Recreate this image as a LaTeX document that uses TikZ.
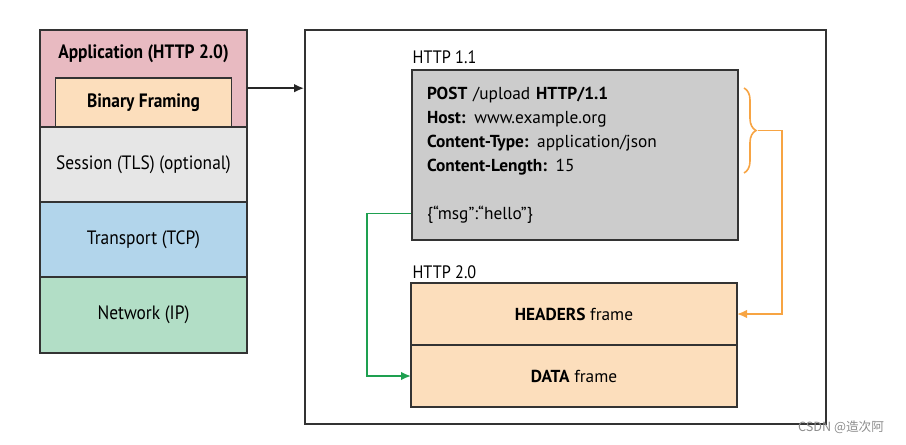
\documentclass[tikz,border=0pt]{standalone}
\usepackage{fontspec}
\setmainfont{PT Sans}
\newfontfamily\waski[FakeStretch=0.9]{PT Sans}
\newfontfamily\cjk{Noto Sans CJK SC}
\usepackage{tikz}
\usetikzlibrary{arrows.meta,positioning,calc,decorations.pathreplacing}

\definecolor{appkol}{RGB}{232,186,193}
\definecolor{ramkakol}{RGB}{252,222,188}
\definecolor{tlskol}{RGB}{230,230,230}
\definecolor{tcpkol}{RGB}{178,213,235}
\definecolor{ipkol}{RGB}{178,222,198}
\definecolor{szarykol}{RGB}{204,204,204}
\definecolor{pomkol}{RGB}{247,164,67}
\definecolor{zielkol}{RGB}{30,160,80}

\begin{document}
\begin{tikzpicture}[x=0.75pt, y=-0.75pt]
\tikzset{
    %arrow tips
    >={Latex[length=7.5pt,width=6.5pt]},
    %layer boxes
    warstwa/.style={
           rectangle, draw=black!80, line width=1.4pt,
           outer sep=0pt, inner sep=0pt,
           minimum width=155.25pt, minimum height=56.25pt,
           font=\waski\fontsize{14.5}{16}\selectfont},
    %frame boxes
    ramka/.style={
           rectangle, draw=black!80, line width=1.4pt,
           outer sep=0pt, inner sep=0pt, fill=ramkakol,
           minimum width=244.5pt, minimum height=46.5pt,
           font=\fontsize{13}{15}\selectfont},
    opis/.style={inner sep=1pt, font=\waski\fontsize{13.5}{15}\selectfont},
    linia/.style={->, line width=1.3pt}
}
\useasboundingbox (0,0) rectangle (906,444);

%Outer box
\node[draw=black!80, line width=1.4pt, minimum width=390.75pt,
      minimum height=295.5pt] (pole) at (565.5,227) {};

%Stack
\node[warstwa, fill=appkol, minimum height=72.75pt] (app) at (143.5,78.5) {};
\node[opis, font=\waski\bfseries\fontsize{14.5}{16}\selectfont,
      below=10pt of app.north] (apptxt) {Application (HTTP 2.0)};
\node[warstwa, fill=ramkakol, minimum width=132pt, minimum height=36.75pt,
      above=0pt of app.south, font=\waski\bfseries\fontsize{14.5}{16}\selectfont] (framing) {Binary Framing};
\node[warstwa, fill=tlskol, below=0pt of app] (tls) {Session (TLS) (optional)};
\node[warstwa, fill=tcpkol, below=0pt of tls] (tcp) {Transport (TCP)};
\node[warstwa, fill=ipkol, minimum height=57pt, below=0pt of tcp] (ip) {Network (IP)};

%HTTP 1.1
\node[draw=black!80, line width=1.4pt, fill=szarykol, align=left,
      text width=222pt, inner xsep=11.25pt, minimum height=127.5pt,
      font=\fontsize{13}{18}\selectfont] (http1) at (575,155)
      {\textbf{POST} /upload \textbf{HTTP/1.1}\\
       \textbf{Host:} www.example.org\\
       \textbf{Content-Type:} application/json\\
       \textbf{Content-Length:} 15\\[18pt]
       \{“msg”:“hello”\}};
\node[opis, above=3pt of http1.north west, anchor=south west] (h1txt) {HTTP 1.1};

%HTTP 2.0
\node[ramka] (headers) at (574,314) {\textbf{HEADERS} frame};
\node[ramka, below=0pt of headers] (data) {\textbf{DATA} frame};
\node[opis, above=2pt of headers.north west, anchor=south west] (h2txt) {HTTP 2.0};

%Brace
\draw[pomkol, line width=1.2pt, decoration={brace, amplitude=9pt}, decorate]
      (744,88) -- (744,173);
\coordinate (klamra) at (758,130.5);

%Arrows
\coordinate (wyjscie) at ($(app.north east)!0.6!(app.south east)$);
\draw[linia, black!85] (wyjscie) -- (wyjscie -| pole.west);
\draw[linia, zielkol] ($(http1.south west)!0.16!(http1.north west)$)
      -- ++(-44,0) |- (data.west);
\draw[linia, pomkol] (klamra) -- ++(24,0) |- (headers.east);

%Watermark
\node[text=black!45, inner sep=0pt, font=\cjk\fontsize{9.5}{10}\selectfont] (csdn)
      at (841,427) {CSDN @造次阿};
\end{tikzpicture}
\end{document}
